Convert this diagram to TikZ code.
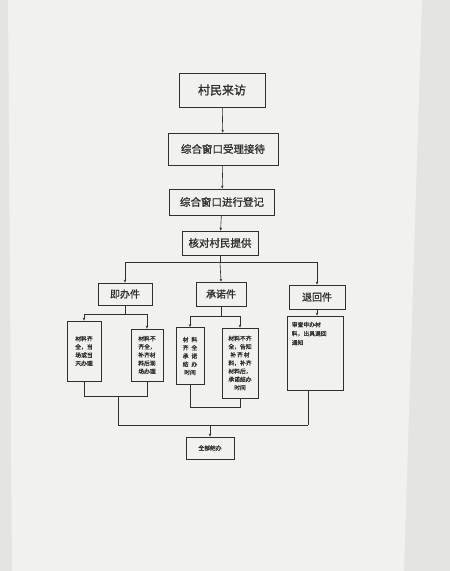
\documentclass[tikz,border=0pt]{standalone}
\usepackage{fontspec}
\newfontfamily\cjk{Noto Sans CJK SC}[FakeBold=1.2]
\usetikzlibrary{arrows.meta}
\definecolor{paper}{HTML}{F1F1EF}
\definecolor{wall}{HTML}{E4E4E2}
\definecolor{ink}{HTML}{303030}
\tikzset{
  box/.style={draw=ink, line width=0.7pt, text=ink, inner sep=1pt, align=center, font=\cjk},
  bigbox/.style={box, font=\cjk\fontsize{12}{14}\selectfont},
  midbox/.style={box, font=\cjk\fontsize{10.5}{12}\selectfont},
  catbox/.style={box, font=\cjk\fontsize{10}{12}\selectfont},
  smallbox/.style={box, font=\cjk\fontsize{5.8}{8.2}\selectfont},
  link/.style={draw=ink, line width=0.6pt},
  arr/.style={link, -{Stealth[length=3pt,width=2.5pt]}}
}
\begin{document}
\begin{tikzpicture}[x=1pt,y=-1pt]
\useasboundingbox (0,0) rectangle (450,571);
\fill[wall] (0,0) rectangle (450,571);
\fill[paper] (8,0) -- (422,0) -- (404,571) -- (12,571) -- cycle;

\node[bigbox, minimum width=86pt, minimum height=34pt] (a) at (222,90) {村民来访};
\node[midbox, minimum width=110pt, minimum height=32pt] (b) at (223,149) {综合窗口受理接待};
\node[midbox, minimum width=105pt, minimum height=26pt] (c) at (222,202) {综合窗口进行登记};
\node[midbox, minimum width=76pt, minimum height=24pt] (d) at (220,243) {核对村民提供};

\node[catbox, minimum width=54pt, minimum height=22pt] (e1) at (125,294) {即办件};
\node[catbox, minimum width=50pt, minimum height=24pt] (e2) at (221,294) {承诺件};
\node[catbox, minimum width=56pt, minimum height=24pt] (e3) at (317,297) {退回件};

\node[smallbox, minimum width=34pt, minimum height=60pt] (f1) at (84,351) {材料齐\\全，当\\场或当\\天办理};
\node[smallbox, minimum width=32pt, minimum height=52pt] (f2) at (147,355) {材料不\\齐全，\\补齐材\\料后现\\场办理};
\node[smallbox, minimum width=28pt, minimum height=57pt] (f3) at (190,356) {材\enspace 料\\齐\enspace 全\\承\enspace 诺\\结\enspace 办\\时间};
\node[smallbox, minimum width=36pt, minimum height=70pt] (f4) at (240,363) {材料不齐\\全，告知\\补\,齐\,材\\料，补齐\\材料后，\\承诺结办\\时间};
\node[draw=ink, line width=0.7pt, minimum width=56pt, minimum height=74pt] (f5) at (315,353) {};
\node[text=ink, font=\cjk\fontsize{5.8}{9}\selectfont, align=left, anchor=north west, inner sep=0pt] (f5t) at ([xshift=5pt,yshift=-6pt]f5.north west) {审查申办材\\料，出具退回\\通知};

\node[smallbox, minimum width=48pt, minimum height=22pt] (g) at (210,448) {全部结办};

% main chain
\draw[arr] (a) -- (b);
\draw[arr] (b) -- (c);
\draw[arr] (c) -- (d);

% branches
\coordinate (br) at (d.south |- 0,262);
\draw[link] (d.south) -- (br);
\draw[arr] (br) -- (e2.north);
\draw[arr] (br) -| (e1.north);
\draw[arr] (br) -| (e3.north);

\coordinate (j1) at (e1.south |- 0,314);
\draw[link] (e1.south) -- (j1);
\draw[arr] (j1) -| (f1.north);
\draw[arr] (j1) -| (f2.north);

\coordinate (j2) at (e2.south |- 0,316);
\draw[link] (e2.south) -- (j2);
\draw[arr] (j2) -| (f3.north);
\draw[arr] (j2) -| (f4.north);

\draw[arr] (e3.south) -- (e3.south |- f5.north);

% bottom joins
\coordinate (k1) at (f1.south |- 0,396);
\coordinate (k2) at (f2.south |- 0,396);
\draw[link] (f1.south) -- (k1) -- (k2) -- (f2.south);
\coordinate (k3) at (118,396);
\coordinate (m1) at (118,425);
\draw[link] (k3) -- (m1);

\coordinate (k4) at (f3.south |- 0,407);
\coordinate (k5) at (f4.south |- 0,407);
\draw[link] (f3.south) -- (k4) -- (k5) -- (f4.south);

\coordinate (m3) at (308,425);
\draw[link] (m3 |- f5.south) -- (m3);
\draw[link] (m1) -- (m3);
\coordinate (m2) at (g.north |- 0,425);
\draw[arr] (m2) -- (g.north);
\end{tikzpicture}
\end{document}
